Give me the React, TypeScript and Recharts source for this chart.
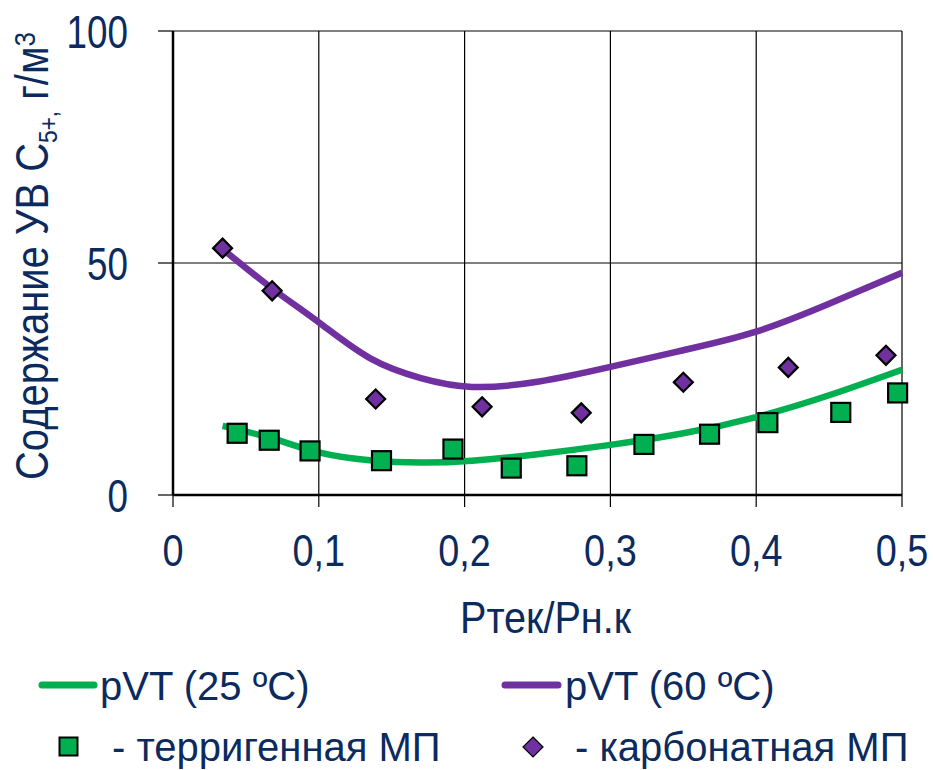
import React from 'react';
import {
  ComposedChart,
  Line,
  Scatter,
  XAxis,
  YAxis,
  CartesianGrid,
} from 'recharts';

// fitted pVT curves (shared x grid)
const curveX = [0.034, 0.068, 0.1, 0.135, 0.17, 0.205, 0.25, 0.3, 0.35, 0.4, 0.45, 0.5];
const pvt25 = [14.9, 12.2, 9.2, 7.5, 7.0, 7.4, 8.8, 10.8, 13.3, 16.8, 21.5, 27.0];
const pvt60 = [53.0, 44.5, 37.2, 29.5, 25.2, 23.3, 24.4, 27.6, 31.2, 35.2, 41.2, 47.9];

// measured points
const terrX = [0.044, 0.066, 0.094, 0.143, 0.192, 0.232, 0.277, 0.323, 0.368, 0.408, 0.458, 0.497];
const terrY = [13.3, 11.8, 9.5, 7.4, 9.9, 5.8, 6.3, 10.9, 13.1, 15.6, 17.8, 22.0];
const carbX = [0.034, 0.068, 0.139, 0.212, 0.28, 0.35, 0.422, 0.489];
const carbY = [53.2, 44.0, 20.7, 19.0, 17.7, 24.3, 27.5, 30.1];

const xTicks = [0, 0.1, 0.2, 0.3, 0.4, 0.5];
const yTicks = [0, 50, 100];

const GREEN = '#00b050';
const PURPLE = '#7030a0';
const NAVY = '#0b2a5e';
const FONT = "'Liberation Sans', Arial, sans-serif";

const line25 = curveX.map((x, i) => ({ x, y: pvt25[i] }));
const line60 = curveX.map((x, i) => ({ x, y: pvt60[i] }));
const terrData = terrX.map((x, i) => ({ x, y: terrY[i] }));
const carbData = carbX.map((x, i) => ({ x, y: carbY[i] }));

const fmtX = (v: number) => (v === 0 ? '0' : String(v).replace('.', ','));

// narrow-looking text: regular font squeezed horizontally
const XTick = (props: any) => {
  const { x, y, payload } = props;
  return (
    <g transform={`translate(${x},${y})`}>
      <text transform="scale(0.86,1)" textAnchor="middle" dy="0.71em" fill={NAVY} fontSize={44} fontFamily={FONT}>
        {fmtX(payload.value)}
      </text>
    </g>
  );
};

const YTick = (props: any) => {
  const { x, y, payload } = props;
  return (
    <g transform={`translate(${x},${y})`}>
      <text transform="scale(0.8,1)" textAnchor="end" dy="0.36em" fill={NAVY} fontSize={46} fontFamily={FONT}>
        {payload.value}
      </text>
    </g>
  );
};

const XLabel = (props: any) => {
  const vb = props.viewBox || { x: 0, y: 0, width: 0, height: 0 };
  const cx = vb.x + vb.width / 2 + 8;
  return (
    <g transform={`translate(${cx},633)`}>
      <text transform="scale(0.9,1)" textAnchor="middle" fill={NAVY} fontSize={44} fontFamily={FONT}>
        Ртек/Рн.к
      </text>
    </g>
  );
};

const YLabel = (props: any) => {
  const vb = props.viewBox || { x: 0, y: 0, width: 0, height: 0 };
  const cy = vb.y + vb.height / 2 - 7;
  return (
    <g transform={`translate(48,${cy}) rotate(-90) scale(0.87,1)`}>
      <text textAnchor="middle" fill={NAVY} fontSize={46} fontFamily={FONT}>
        Содержание УВ С
        <tspan dy={9} fontSize={26}>5+,</tspan>
        <tspan dy={-9}> г/м</tspan>
        <tspan dy={-13} fontSize={30}>3</tspan>
      </text>
    </g>
  );
};

const SquareMark = (props: any) => {
  const { cx, cy } = props;
  return <rect x={cx - 9.5} y={cy - 9.5} width={19} height={19} fill={GREEN} stroke="#000" strokeWidth={2.2} />;
};

const DiamondMark = (props: any) => {
  const { cx, cy } = props;
  const r = 9.5;
  return (
    <polygon
      points={`${cx},${cy - r} ${cx + r},${cy} ${cx},${cy + r} ${cx - r},${cy}`}
      fill={PURPLE}
      stroke="#000"
      strokeWidth={2.2}
    />
  );
};

const legendText: React.CSSProperties = {
  position: 'absolute',
  color: NAVY,
  fontSize: 40,
  fontFamily: FONT,
  lineHeight: 1,
  whiteSpace: 'nowrap',
};

export default function App() {
  return (
    <div style={{ position: 'absolute', left: 0, top: 0, width: 933, height: 770, background: '#fff', overflow: 'hidden' }}>
      <ComposedChart width={933} height={662} margin={{ top: 31, right: 31, left: 0, bottom: 0 }}>
        <CartesianGrid stroke="#000" strokeWidth={1.2} horizontalValues={yTicks} verticalValues={xTicks} />
        <XAxis
          type="number"
          dataKey="x"
          domain={[0, 0.5]}
          ticks={xTicks}
          height={167}
          tickSize={12}
          tickMargin={28}
          axisLine={{ stroke: '#000', strokeWidth: 2.5 }}
          tickLine={{ stroke: '#000', strokeWidth: 1.2 }}
          tick={<XTick />}
          label={{ content: XLabel }}
        />
        <YAxis
          type="number"
          dataKey="y"
          domain={[0, 100]}
          ticks={yTicks}
          width={173}
          tickSize={15}
          tickMargin={30}
          axisLine={{ stroke: '#000', strokeWidth: 2.5 }}
          tickLine={{ stroke: '#000', strokeWidth: 1.2 }}
          tick={<YTick />}
          label={{ content: YLabel }}
        />
        <Line data={line25} dataKey="y" type="natural" stroke={GREEN} strokeWidth={6.5} dot={false} isAnimationActive={false} />
        <Line data={line60} dataKey="y" type="natural" stroke={PURPLE} strokeWidth={6.5} dot={false} isAnimationActive={false} />
        <Scatter data={terrData} dataKey="y" shape={SquareMark} isAnimationActive={false} />
        <Scatter data={carbData} dataKey="y" shape={DiamondMark} isAnimationActive={false} />
      </ComposedChart>

      <svg width={933} height={108} style={{ position: 'absolute', left: 0, top: 662 }}>
        <line x1={42} y1={23} x2={94} y2={23} stroke={GREEN} strokeWidth={7} strokeLinecap="round" />
        <line x1={505} y1={23} x2={558} y2={23} stroke={PURPLE} strokeWidth={7} strokeLinecap="round" />
        <rect x={59.5} y={75.5} width={18} height={18} fill={GREEN} stroke="#000" strokeWidth={2} />
        <polygon points="533,75 543,85 533,95 523,85" fill={PURPLE} stroke="#000" strokeWidth={1.2} />
      </svg>
      <span style={{ ...legendText, left: 100, top: 666 }}>pVT (25 ºC)</span>
      <span style={{ ...legendText, left: 565, top: 666 }}>pVT (60 ºC)</span>
      <span style={{ ...legendText, left: 112, top: 727 }}>- терригенная МП</span>
      <span style={{ ...legendText, left: 575, top: 727 }}>- карбонатная МП</span>
    </div>
  );
}
